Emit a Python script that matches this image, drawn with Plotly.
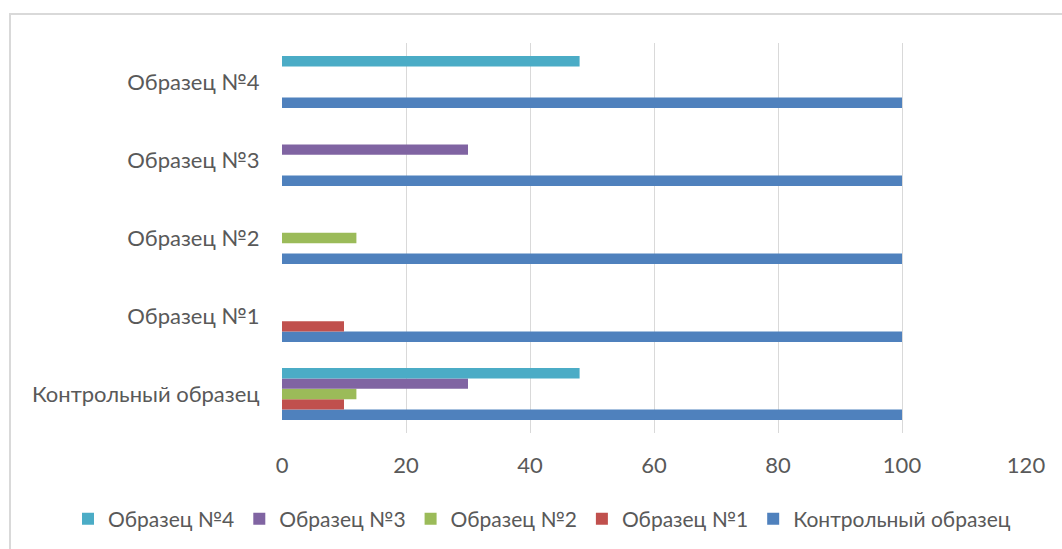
import plotly.graph_objects as go

categories = ["Контрольный образец", "Образец №1", "Образец №2", "Образец №3", "Образец №4"]
series_names = ["Контрольный образец", "Образец №1", "Образец №2", "Образец №3", "Образец №4"]
control = [100, 100, 100, 100, 100]
sample1 = [10, 10, None, None, None]
sample2 = [12, None, 12, None, None]
sample3 = [30, None, None, 30, None]
sample4 = [48, None, None, None, 48]
colors = ["#4F81BD", "#C0504D", "#9BBB59", "#8064A2", "#4BACC6"]
x_ticks = [0, 20, 40, 60, 80, 100, 120]

FONT = "Lato"
TEXT = "#595959"
FS = 22

fig = go.Figure()
for name, vals, col in zip(series_names, [control, sample1, sample2, sample3, sample4], colors):
    fig.add_trace(go.Bar(
        y=categories, x=vals, name=name, orientation="h",
        marker=dict(color=col, line=dict(width=0)),
    ))

W, H = 1062, 549
L, R, T, B = 282, 36, 43, 116
pw, ph = W - L - R, H - T - B

fig.update_layout(
    width=W, height=H,
    margin=dict(l=L, r=R, t=T, b=B, autoexpand=False),
    barmode="group", bargap=0.333, bargroupgap=0,
    paper_bgcolor="white", plot_bgcolor="white",
    font=dict(family=FONT, size=FS, color=TEXT),
    legend=dict(
        orientation="h", traceorder="reversed",
        xref="paper", yref="paper",
        x=(68 - L) / pw, xanchor="left",
        y=(T + ph - 519) / ph, yanchor="middle",
        bgcolor="rgba(0,0,0,0)",
        font=dict(family=FONT, size=21, color=TEXT),
    ),
    xaxis=dict(
        range=[0, 120], tickvals=x_ticks, showgrid=True, gridcolor="#D9D9D9",
        gridwidth=1, zeroline=False, showline=False,
        ticks="outside", ticklen=13, tickcolor="rgba(0,0,0,0)",
        tickfont=dict(family=FONT, size=FS, color=TEXT),
        fixedrange=True,
    ),
    yaxis=dict(
        type="category", categoryorder="array", categoryarray=categories,
        showgrid=False, zeroline=False, showline=False,
        ticks="outside", ticklen=17, tickcolor="rgba(0,0,0,0)",
        tickfont=dict(family=FONT, size=FS, color=TEXT),
    ),
    shapes=[dict(
        type="rect", xref="paper", yref="paper",
        x0=(10 - L) / pw, x1=(W + 20 - L) / pw,
        y0=(T + ph - (H + 20)) / ph, y1=(T + ph - 14) / ph,
        line=dict(color="#D9D9D9", width=2), layer="below",
    )],
)

fig.write_html("out.html")
